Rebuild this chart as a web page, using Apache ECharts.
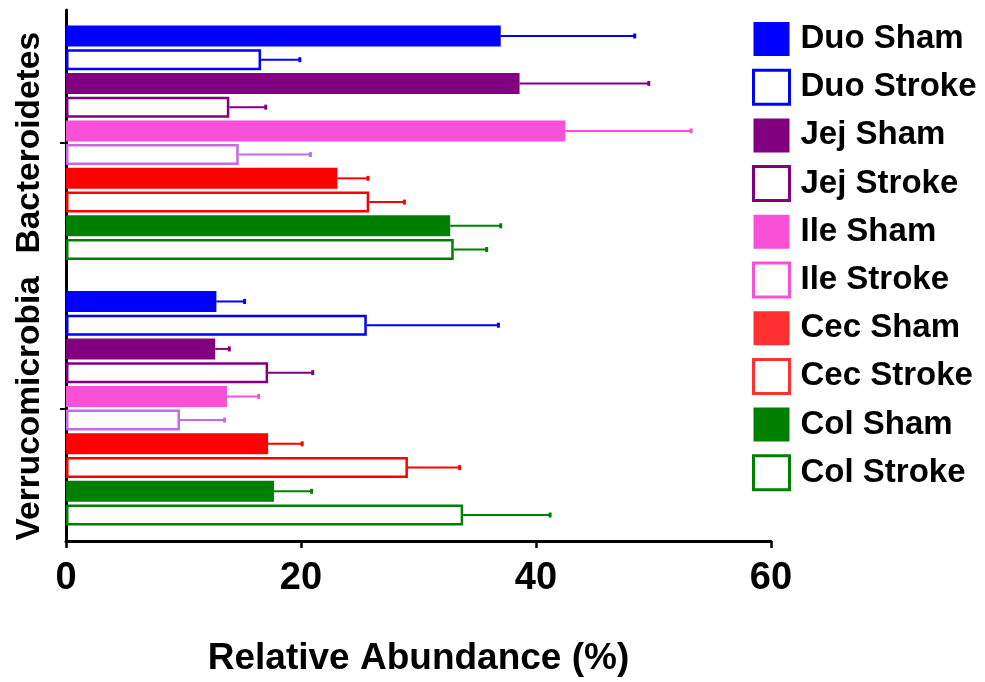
<!DOCTYPE html>
<html>
<head>
<meta charset="utf-8">
<script src="https://cdn.jsdelivr.net/npm/echarts@6/dist/echarts.min.js"></script>
<style>
  html, body { margin: 0; padding: 0; background: #fff; }
  #chart { width: 985px; height: 682px; }
</style>
</head>
<body>
<div id="chart"></div>
<script>
// ---- data ----
const categories = ['Bacteroidetes', 'Verrucomicrobia'];
const seriesNames = ['Duo Sham', 'Duo Stroke', 'Jej Sham', 'Jej Stroke', 'Ile Sham',
                     'Ile Stroke', 'Cec Sham', 'Cec Stroke', 'Col Sham', 'Col Stroke'];
const bacteroidetesMean = [37.0, 16.6, 38.6, 13.9, 42.5, 14.7, 23.1, 25.8, 32.7, 33.0];
const bacteroidetesSem  = [11.4, 3.3, 11.0, 3.1, 10.7, 6.1, 2.6, 3.0, 4.3, 2.8];
const verrucoMean = [12.8, 25.6, 12.7, 17.2, 13.7, 9.7, 17.2, 29.1, 17.7, 33.8];
const verrucoSem  = [2.4, 11.2, 1.2, 3.8, 2.7, 3.8, 2.9, 4.4, 3.2, 7.4];
const xTicks = [0, 20, 40, 60];

// ---- styles ----
const barColors = ['#0000ff', '#0000ff', '#800080', '#800080', '#f950d8',
                   '#c56ae0', '#ff0000', '#ff0000', '#008000', '#008000'];
const legendColors = ['#0000ff', '#0000ff', '#800080', '#800080', '#f950d8',
                      '#f950d8', '#ff3030', '#ff3030', '#008000', '#008000'];
const isStroke = seriesNames.map(n => n.indexOf('Stroke') >= 0);
const BAR_W = 21, BAR_GAP = 0.13;

const chart = echarts.init(document.getElementById('chart'));

const series = seriesNames.map((name, i) => ({
  name: name,
  type: 'bar',
  barWidth: BAR_W,
  barGap: (BAR_GAP * 100) + '%',
  data: [bacteroidetesMean[i], verrucoMean[i]],
  itemStyle: isStroke[i]
    ? { color: '#ffffff', borderColor: barColors[i], borderWidth: 2.5 }
    : { color: barColors[i], borderWidth: 0 },
  emphasis: { disabled: true },
  z: 2
}));

const errData = [];
seriesNames.forEach((n, i) => {
  errData.push([0, bacteroidetesMean[i], bacteroidetesMean[i] + bacteroidetesSem[i], i]);
  errData.push([1, verrucoMean[i], verrucoMean[i] + verrucoSem[i], i]);
});

series.push({
  name: 'errors',
  type: 'custom',
  data: errData,
  encode: { x: [1, 2], y: 0 },
  z: 3,
  silent: true,
  renderItem: function (params, api) {
    const cat = api.value(0), mean = api.value(1), up = api.value(2), si = api.value(3);
    const center = api.coord([0, cat])[1];
    const gap = BAR_W * BAR_GAP;
    const total = 10 * BAR_W + 9 * gap;
    const y = center - total / 2 + si * (BAR_W + gap) + BAR_W / 2;
    const x0 = api.coord([mean, cat])[0];
    const x1 = api.coord([up, cat])[0];
    const c = barColors[si];
    return {
      type: 'group',
      children: [
        { type: 'line', shape: { x1: x0, y1: y, x2: x1, y2: y }, style: { stroke: c, lineWidth: 2 } },
        { type: 'line', shape: { x1: x1, y1: y - 2.5, x2: x1, y2: y + 2.5 }, style: { stroke: c, lineWidth: 3 } }
      ]
    };
  }
});

const option = {
  animation: false,
  backgroundColor: '#ffffff',
  grid: { left: 66, right: 214, top: 10, bottom: 141, containLabel: false },
  legend: {
    orient: 'vertical',
    left: 747,
    top: 17,
    itemWidth: 36,
    itemHeight: 34,
    itemGap: 12.7,
    selectedMode: false,
    textStyle: {
      fontFamily: '"Liberation Sans", Arial, sans-serif',
      fontWeight: 'bold',
      fontSize: 33,
      lineHeight: 34,
      color: '#000',
      padding: [0, 0, 0, 6]
    },
    data: seriesNames.map((n, i) => ({
      name: n,
      icon: 'rect',
      itemStyle: isStroke[i]
        ? { color: '#ffffff', borderColor: legendColors[i], borderWidth: 3 }
        : { color: legendColors[i], borderWidth: 0 }
    }))
  },
  xAxis: {
    type: 'value',
    min: xTicks[0],
    max: xTicks[xTicks.length - 1],
    interval: 20,
    name: 'Relative Abundance (%)',
    nameLocation: 'middle',
    nameGap: 99,
    nameTextStyle: {
      fontFamily: '"Liberation Sans", Arial, sans-serif',
      fontWeight: 'bold',
      fontSize: 37,
      color: '#000'
    },
    splitLine: { show: false },
    axisLine: { show: true, lineStyle: { color: '#000', width: 3 } },
    axisTick: { show: true, length: 7, lineStyle: { color: '#000', width: 2.5 } },
    axisLabel: {
      margin: 19,
      fontFamily: '"Liberation Sans Narrow", "Arial Narrow", "Liberation Sans", sans-serif',
      fontWeight: 'bold',
      fontSize: 38,
      color: '#000'
    }
  },
  yAxis: {
    type: 'category',
    inverse: true,
    data: categories,
    axisLine: { show: true, lineStyle: { color: '#000', width: 3 } },
    axisTick: { show: true, alignWithLabel: true, length: 6, lineStyle: { color: '#000', width: 2 } },
    axisLabel: {
      interval: 0,
      hideOverlap: false,
      rotate: 90,
      margin: 19,
      fontFamily: '"Liberation Sans", Arial, sans-serif',
      fontWeight: 'bold',
      fontSize: 33.5,
      color: '#000'
    }
  },
  series: series
};

chart.setOption(option);
</script>
</body>
</html>
